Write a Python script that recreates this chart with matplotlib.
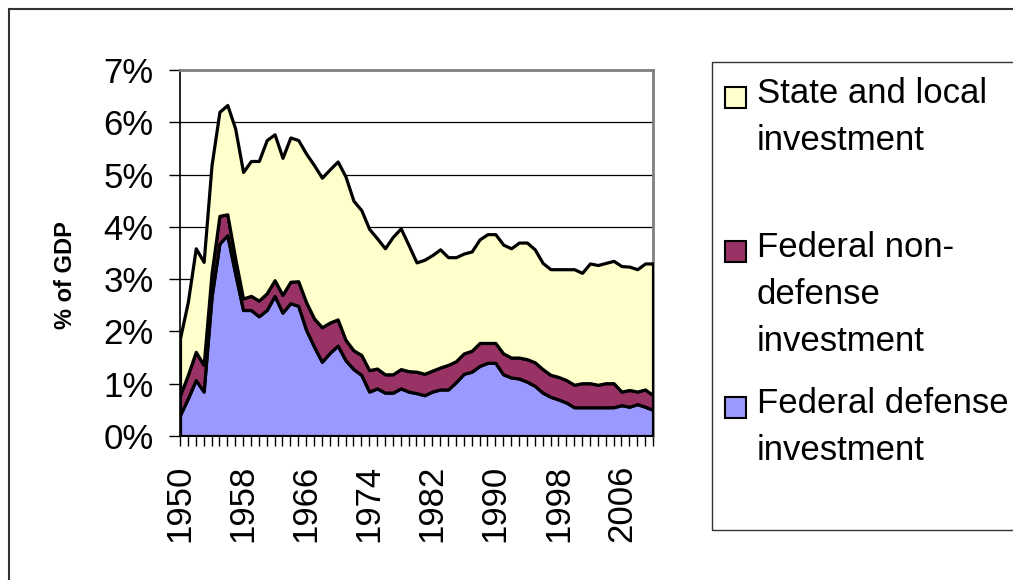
import numpy as np
import matplotlib.pyplot as plt
from matplotlib.patches import Rectangle

plt.rcParams['font.family'] = ['Liberation Sans', 'DejaVu Sans']

years = list(range(1950, 2011))

# % of GDP
defense = [0.40, 0.72, 1.07, 0.85, 2.66, 3.68, 3.84, 3.11, 2.41, 2.41,
           2.29, 2.41, 2.68, 2.36, 2.54, 2.49, 2.03, 1.71, 1.42, 1.59,
           1.73, 1.45, 1.28, 1.17, 0.85, 0.91, 0.83, 0.83, 0.91, 0.85,
           0.82, 0.78, 0.85, 0.89, 0.89, 1.03, 1.19, 1.23, 1.34, 1.40,
           1.40, 1.18, 1.12, 1.10, 1.04, 0.96, 0.83, 0.75, 0.70, 0.64,
           0.55, 0.55, 0.55, 0.55, 0.55, 0.55, 0.59, 0.56, 0.61, 0.56,
           0.50]
nondefense = [0.38, 0.45, 0.54, 0.51, 0.45, 0.53, 0.40, 0.29, 0.22, 0.27,
              0.30, 0.32, 0.30, 0.34, 0.41, 0.47, 0.53, 0.54, 0.66, 0.58,
              0.50, 0.39, 0.36, 0.38, 0.41, 0.38, 0.35, 0.35, 0.37, 0.39,
              0.41, 0.41, 0.40, 0.42, 0.47, 0.40, 0.39, 0.40, 0.44, 0.38,
              0.38, 0.40, 0.38, 0.40, 0.43, 0.45, 0.45, 0.42, 0.43, 0.43,
              0.43, 0.46, 0.46, 0.43, 0.46, 0.46, 0.26, 0.32, 0.24, 0.33,
              0.28]
state_local = [1.09, 1.40, 1.98, 1.97, 2.07, 1.99, 2.09, 2.48, 2.42, 2.58,
               2.67, 2.93, 2.79, 2.62, 2.76, 2.70, 2.84, 2.93, 2.86, 2.93,
               3.02, 3.12, 2.86, 2.77, 2.70, 2.49, 2.41, 2.63, 2.69, 2.41,
               2.09, 2.18, 2.21, 2.26, 2.06, 1.99, 1.91, 1.90, 1.98, 2.08,
               2.08, 2.08, 2.09, 2.20, 2.23, 2.16, 2.03, 2.02, 2.06, 2.12,
               2.21, 2.11, 2.29, 2.29, 2.30, 2.34, 2.40, 2.36, 2.34, 2.41,
               2.52]

labels = ["Federal defense\ninvestment",
          "Federal non-\ndefense\ninvestment",
          "State and local\ninvestment"]
colors = ['#9999FF', '#993366', '#FFFFCC']
yticks = [0, 1, 2, 3, 4, 5, 6, 7]
label_years = list(range(1950, 2011, 8))

W, H = 1013, 580
fig = plt.figure(figsize=(W / 100, H / 100), dpi=100)
ax = fig.add_axes([180 / W, 1 - 436 / H, (653 - 180) / W, (436 - 70) / H])

ax.stackplot(years, defense, nondefense, state_local, colors=colors,
             edgecolor='black', linewidth=2.3, zorder=3)

ax.set_xlim(1950, 2010)
ax.set_ylim(0, 7)
ax.set_yticks(yticks)
ax.set_yticklabels([f"{v}%" for v in yticks], fontsize=25)
ax.set_xticks(years)
ax.set_xticklabels([str(y) if y in label_years else '' for y in years],
                   rotation=90, fontsize=25)
ax.tick_params(axis='y', length=8, width=1, pad=11, direction='out')
ax.tick_params(axis='x', length=7.5, width=1, pad=13, direction='out')
ax.grid(axis='y', color='black', linewidth=0.9)
ax.set_axisbelow(True)
ax.spines['top'].set_color('#808080')
ax.spines['right'].set_color('#808080')
ax.spines['top'].set_linewidth(2)
ax.spines['right'].set_linewidth(2)
ax.spines['left'].set_linewidth(1.2)
ax.spines['bottom'].set_linewidth(1.2)

fig.text(66 / W, 1 - 275 / H, '% of GDP', rotation=90, fontsize=17,
         fontweight='bold', ha='center', va='center')

# outer chart border
fig.add_artist(Rectangle((8.5 / W, -0.1), 2, 1.1 - 9 / H, transform=fig.transFigure,
                         fill=False, edgecolor='#333333', linewidth=1.5))

# legend box, entries listed top to bottom
fig.add_artist(Rectangle((711.7 / W, 1 - 530 / H), 0.5, (530 - 61.7) / H,
                         transform=fig.transFigure, fill=False,
                         edgecolor='#333333', linewidth=1))
entry_tops = [87, 241, 397]
for top, lab, col in zip(entry_tops, labels[::-1], colors[::-1]):
    fig.add_artist(Rectangle((725 / W, 1 - (top + 21) / H), 21 / W, 21 / H,
                             transform=fig.transFigure, facecolor=col,
                             edgecolor='black', linewidth=1.5))
    for k, line in enumerate(lab.split('\n')):
        base = top + 16 + 47 * k
        fig.text(757 / W, 1 - base / H, line, fontsize=25,
                 ha='left', va='baseline')

fig.savefig('out.png', dpi=100)
